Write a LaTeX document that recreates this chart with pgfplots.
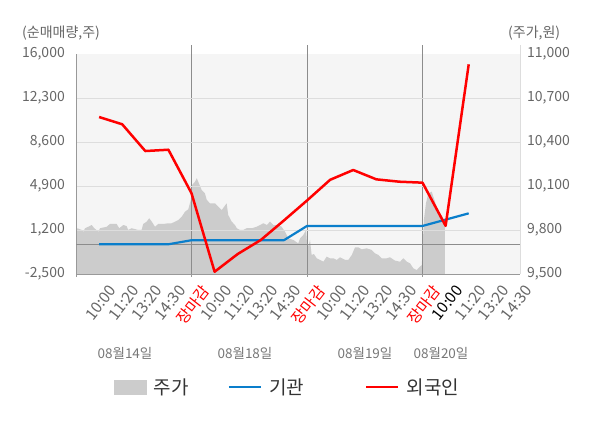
\documentclass[border=0pt]{standalone}
\usepackage{pgfplots}
\pgfplotsset{compat=1.18}
\usepackage{fontspec}
\setmainfont{Noto Sans CJK KR}
\definecolor{lbl}{HTML}{666666}
\definecolor{datec}{HTML}{777777}
\definecolor{legc}{HTML}{333333}
\definecolor{bg}{HTML}{F5F5F5}
\definecolor{areag}{HTML}{CCCCCC}
\definecolor{gridc}{HTML}{DDDDDD}
\definecolor{sepc}{HTML}{8C8C8C}
\definecolor{axc}{HTML}{999999}
\definecolor{instblue}{HTML}{0A7ECB}
\definecolor{frred}{HTML}{FF0000}
\begin{document}
\begin{tikzpicture}
\useasboundingbox (0pt,0pt) rectangle (600pt,428pt);
% ---- back axis: price (right) ----
\begin{axis}[
  at={(76pt,154pt)}, anchor=south west,
  scale only axis, width=444pt, height=220pt,
  xmin=0, xmax=19.22, ymin=9500, ymax=11000,
  scaled x ticks=false, scaled y ticks=false,
  axis background/.style={fill=bg},
  axis x line*=bottom, axis y line*=right,
  x axis line style={draw=none},
  y axis line style={draw=gridc, line width=0.8pt},
  xtick={1,...,19},
  xticklabels={10:00,11:20,13:20,14:30,\textcolor{frred}{장마감},10:00,11:20,13:20,14:30,\textcolor{frred}{장마감},10:00,11:20,13:20,14:30,\textcolor{frred}{장마감},\textcolor{black}{10:00},11:20,13:20,14:30},
  xtick style={draw=none},
  xticklabel style={rotate=52, anchor=north east, inner sep=0pt, yshift=-13pt, xshift=-2pt, font=\fontsize{15.5}{17}\selectfont, text=lbl},
  ytick={9500,9800,10100,10400,10700,11000},
  yticklabels={{9,500},{9,800},{10,100},{10,400},{10,700},{11,000}},
  ytick style={draw=none},
  yticklabel style={anchor=west, inner sep=0pt, xshift=7pt, font=\fontsize{14}{16}\selectfont, text=lbl},
  clip=false,
]
\addplot[fill=areag, draw=none] coordinates {
(0,9500) (0,9766) (0.06,9812) (0.25,9800) (0.32,9788) (0.39,9812) (0.53,9822) (0.68,9834) (0.78,9814) (0.97,9788)
(1.04,9812) (1.33,9822) (1.47,9841) (1.76,9841) (1.87,9812) (2.05,9834) (2.19,9827) (2.26,9800) (2.41,9812) (2.70,9800)
(2.84,9800) (2.91,9841) (3.06,9857) (3.17,9880) (3.28,9857) (3.42,9822) (3.56,9841) (3.78,9841) (4.00,9846) (4.14,9846)
(4.29,9857) (4.43,9868) (4.58,9891) (4.72,9925) (4.86,9941) (4.97,10005) (5.03,10107) (5.15,10129) (5.23,10153) (5.32,10118)
(5.44,10073) (5.58,10050) (5.66,10005) (5.80,9982) (6.02,9982) (6.16,9959) (6.31,9936) (6.52,9982) (6.59,9902) (6.74,9857)
(6.88,9834) (6.96,9812) (7.10,9800) (7.24,9800) (7.39,9812) (7.61,9812) (7.82,9822) (7.97,9834) (8.11,9846) (8.26,9834)
(8.40,9857) (8.54,9834) (8.76,9834) (8.90,9822) (9.05,9788) (9.19,9743) (9.41,9732) (9.62,9709) (9.70,9743) (9.84,9766)
(9.96,9800) (9.99,9732) (10.06,9686) (10.13,9732) (10.20,9630) (10.30,9636) (10.42,9607) (10.56,9596) (10.71,9584) (10.85,9618)
(11.00,9607) (11.14,9607) (11.29,9596) (11.43,9614) (11.65,9596) (11.79,9596) (11.94,9630) (12.08,9682) (12.22,9682) (12.37,9668)
(12.58,9675) (12.80,9664) (12.94,9641) (13.09,9630) (13.23,9607) (13.45,9607) (13.59,9614) (13.81,9591) (14.03,9584) (14.17,9607)
(14.32,9584) (14.46,9573) (14.60,9539) (14.75,9527) (14.89,9550) (14.97,9561) (15.06,9868) (15.15,9982) (15.25,10050) (15.40,10061)
(15.47,10027) (15.61,9959) (15.76,9914) (15.90,9880) (15.97,9857) (15.97,9500)
} -- cycle;
\draw[gridc, line width=0.8pt] (axis cs:19.22,11000) -- ++(0pt,9pt);
\end{axis}
% ---- front axis: net buying (left) ----
\begin{axis}[
  at={(76pt,154pt)}, anchor=south west,
  scale only axis, width=444pt, height=220pt,
  xmin=0, xmax=19.22, ymin=-2500, ymax=16000,
  scaled x ticks=false, scaled y ticks=false,
  axis x line*=bottom, axis y line*=left,
  axis line style={draw=axc, line width=0.8pt},
  xtick={0,5,10,15}, xticklabels={},
  xmajorgrids, x grid style={draw=sepc, line width=0.8pt},
  tick align=outside, major tick length=3pt,
  xtick style={draw=axc, line width=0.8pt},
  ytick={1200,4900,8600,12300},
  yticklabels={{1,200},{4,900},{8,600},{12,300}},
  extra y ticks={-2500,16000},
  extra y tick labels={{-2,500},{16,000}},
  extra y tick style={grid=none},
  ymajorgrids, y grid style={draw=gridc, line width=0.8pt},
  ytick style={draw=none},
  yticklabel style={anchor=east, inner sep=0pt, xshift=-8pt, font=\fontsize{14}{16}\selectfont, text=lbl},
  clip=false,
  legend columns=3,
  legend cell align=left,
  legend style={at={(0.0856,-0.5136)}, anchor=west, draw=none, fill=none, inner sep=0pt,
    font=\fontsize{19}{21}\selectfont, text=legc, nodes={inner sep=0pt},
    /tikz/every odd column/.style={column sep=7pt}},
]
\addlegendimage{legend image code/.code={\fill[areag] (0pt,-7pt) rectangle (32pt,7pt);}}
\addlegendentry{주가\hspace*{39pt}}
\addplot[forget plot, draw=sepc, line width=1pt] coordinates {(0,0) (19.22,0)};
\addplot[instblue, line width=2.2pt, line join=round,
  legend image code/.code={\draw[instblue, line width=2.5pt] (0pt,0pt) -- (32pt,0pt);}]
  coordinates {(1,0) (2,0) (3,0) (4,0) (5,340) (6,340) (7,340) (8,340) (9,340) (10,1540) (11,1540) (12,1540) (13,1540) (14,1540) (15,1540) (16,2070) (17,2600)};
\addlegendentry{기관\hspace*{61pt}}
\addplot[frred, line width=2.5pt, line join=round,
  legend image code/.code={\draw[frred, line width=2.5pt] (0pt,0pt) -- (32pt,0pt);}]
  coordinates {(1,10700) (2,10090) (3,7840) (4,7950) (5,4290) (6,-2310) (7,-820) (8,360) (9,2000) (10,3680) (11,5420) (12,6245) (13,5460) (14,5260) (15,5180) (16,1550) (17,15130)};
\addlegendentry{외국인}
\draw[sepc, line width=0.8pt] (axis cs:5,16000) -- ++(0pt,9pt);
\draw[sepc, line width=0.8pt] (axis cs:10,16000) -- ++(0pt,9pt);
\draw[sepc, line width=0.8pt] (axis cs:15,16000) -- ++(0pt,9pt);
\end{axis}
\node[anchor=west, inner sep=0pt, text=lbl, font=\fontsize{14}{16}\selectfont] at (22pt,395pt) {(순매매량,주)};
\node[anchor=west, inner sep=0pt, text=lbl, font=\fontsize{14}{16}\selectfont] at (508pt,395pt) {(주가,원)};
\node[inner sep=0pt, text=datec, font=\fontsize{13.5}{15}\selectfont] at (125pt,75pt) {08월14일};
\node[inner sep=0pt, text=datec, font=\fontsize{13.5}{15}\selectfont] at (245pt,75pt) {08월18일};
\node[inner sep=0pt, text=datec, font=\fontsize{13.5}{15}\selectfont] at (365pt,75pt) {08월19일};
\node[inner sep=0pt, text=datec, font=\fontsize{13.5}{15}\selectfont] at (441pt,75pt) {08월20일};
\end{tikzpicture}
\end{document}
